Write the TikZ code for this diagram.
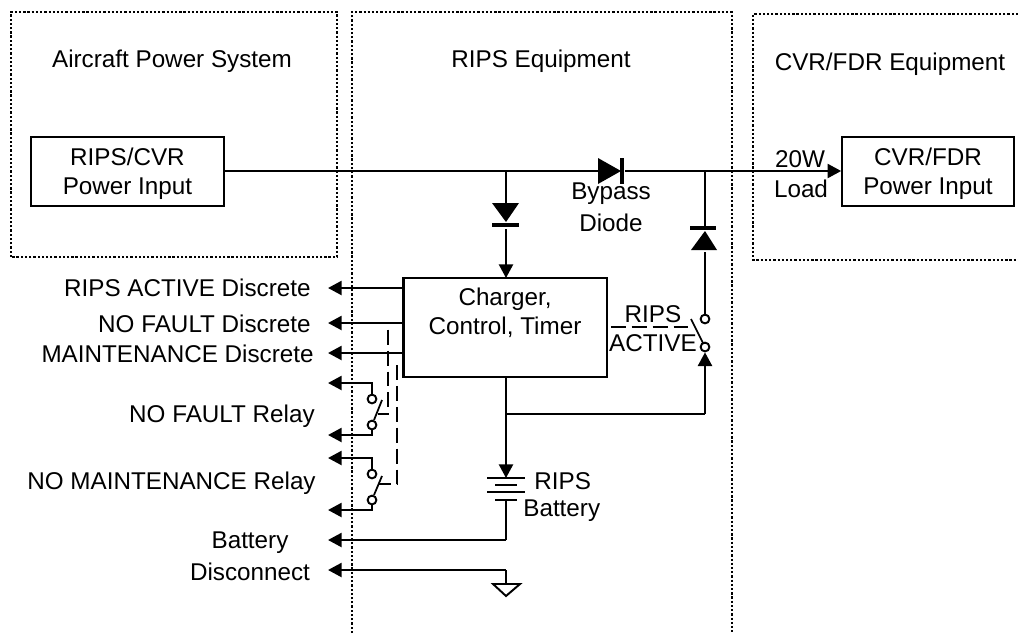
\documentclass[tikz,border=0pt]{standalone}
\usepackage{fontspec}
\setmainfont{Liberation Sans}
\usetikzlibrary{arrows.meta}

\tikzset{
  txt/.style={inner sep=0pt, align=center, font=\fontsize{13.8}{16.4}\selectfont},
  txtr/.style={txt, anchor=east},
  txtl/.style={txt, anchor=west},
  unitbox/.style={draw, line width=1.3pt, inner sep=0pt},
  terminal/.style={circle, draw, fill=white, line width=1.1pt, inner sep=0pt, minimum size=5pt},
  wire/.style={line width=1.35pt},
  sig/.style={wire, -{Triangle[length=7.8pt,width=8pt]}},
  region/.style={line width=1.5pt, dash pattern=on 1.3pt off 1.1pt},
  ctrl/.style={line width=1.3pt, dash pattern=on 8.5pt off 3.4pt},
  plate/.style={line width=1pt}
}

\begin{document}
\begin{tikzpicture}[x=0.02cm, y=-0.02cm]
   \useasboundingbox (0,0) rectangle (1018,633);

   % equipment regions
   \draw[region] (11,257) -- (11,12) -- (337,12) -- (337,257) -- cycle;
   \draw[region] (352,633) -- (352,12) -- (732,12) -- (732,633);
   \draw[region] (1018,14) -- (753,14) -- (753,260) -- (1018,260);
   \node[txt] (aps) at (172,61) {Aircraft Power System};
   \node[txt] (rips) at (541,61) {RIPS Equipment};
   \node[txt] (cvr) at (890,64) {CVR/FDR Equipment};

   % boxes
   \node[unitbox, minimum width=110pt, minimum height=39.5pt] (P1) at (127.5,171.5) {};
   \node[unitbox, minimum width=97.5pt, minimum height=39.5pt] (P2) at (928,171.5) {};
   \node[unitbox, minimum width=115.7pt, minimum height=56pt] (C) at (505,327.5) {};
   \node[txt] (P1t) at (127.5,174) {RIPS/CVR\\Power Input};
   \node[txt] (P2t) at (928,174) {CVR/FDR\\Power Input};
   \node[txt] (Ct) at (505,313) {Charger,\\Control, Timer};

   % helper points
   \coordinate (J1) at (506,171);
   \coordinate (J2) at (705,171);
   \coordinate (D1a) at (598,171);
   \coordinate (D1b) at (625,171);
   \coordinate (D2a) at (506,203);
   \coordinate (D2b) at (506,229);
   \coordinate (D3a) at (705,252);
   \coordinate (D3b) at (705,228);
   \coordinate (CT) at (506,278);
   \coordinate (CB) at (506,377);
   \coordinate (J3) at (506,414);
   \coordinate (K) at (705,414);
   \coordinate (BT) at (506,478);
   \coordinate (BB) at (506,500);
   \coordinate (BC) at (506,540);
   \coordinate (GC) at (506,570);
   \coordinate (GN) at (506,584);

   % main bus
   \draw[wire] (P1.east |- J1) -- (D1a);
   \draw[sig] (D1b) -- (P2.west |- D1b);
   \fill (598,158) -- (621,171) -- (598,184) -- cycle;
   \draw[line width=2pt] (622,158) -- (622,184);

   % charging path
   \draw[wire] (J1) -- (D2a);
   \fill (492,203) -- (519,203) -- (506,222) -- cycle;
   \draw[line width=2pt] (492,225) -- (519,225);
   \draw[sig] (D2b) -- (CT);

   % RIPS output
   \node[terminal] (S1) at (705,319) {};
   \node[terminal] (S2) at (705,347) {};
   \draw[wire] (J2) -- (D3b);
   \draw[line width=2pt] (690,228) -- (716,228);
   \fill (705,231) -- (717,250) -- (691,250) -- cycle;
   \draw[wire] (D3a) -- (S1);
   \draw[line width=1pt] (691,319) -- (703,343);
   \draw[wire] (CB) -- (J3);
   \draw[wire] (J3) -- (K);
   \draw[sig] (K) -- (S2);
   \draw[ctrl] (C.east |- 0,327) ++(3,0) -- (690,327);
   \node[txt] (act1) at (653,314) {RIPS};
   \node[txt] (act2) at (653,343) {ACTIVE};

   % battery
   \draw[sig] (J3) -- (BT);
   \draw[plate] (487,478) -- (525,478);
   \draw[plate] (495,485) -- (517,485);
   \draw[plate] (487,492) -- (525,492);
   \draw[plate] (495,500) -- (517,500);
   \node[txtl] (batt1) at (534,481) {RIPS};
   \node[txtl] (batt2) at (523,511) {Battery};
   \coordinate (L7) at (328,540);
   \coordinate (L8) at (328,570);
   \draw[wire] (BB) -- (BC);
   \draw[sig] (BC) -- (L7);
   \draw[sig] (GC) -- (L8);
   \draw[wire] (GC) -- (GN);
   \draw[line width=1.1pt] (493,584) -- (520,584) -- (506,596) -- cycle;
   \node[txt] (disc1) at (250,543) {Battery};
   \node[txt] (disc2) at (250,572) {Disconnect};

   % discretes
   \coordinate (L1) at (328,288);
   \coordinate (L2) at (328,323);
   \coordinate (L3) at (328,353);
   \draw[sig] (C.west |- L1) -- (L1);
   \draw[sig] (C.west |- L2) -- (L2);
   \draw[sig] (C.west |- L3) -- (L3);
   \node[txtr] (d1) at (311,288) {RIPS ACTIVE Discrete};
   \node[txtr] (d2) at (311,324) {NO FAULT Discrete};
   \node[txtr] (d3) at (314,354) {MAINTENANCE Discrete};

   % relays
   \node[terminal] (R1a) at (372,399) {};
   \node[terminal] (R1b) at (372,425) {};
   \node[terminal] (R2a) at (372,474) {};
   \node[terminal] (R2b) at (372,500) {};
   \coordinate (L4) at (328,383);
   \coordinate (L5) at (328,435);
   \coordinate (L6) at (328,458);
   \coordinate (L9) at (328,510);
   \draw[sig] (R1a) |- (L4);
   \draw[sig] (R1b) |- (L5);
   \draw[sig] (R2a) |- (L6);
   \draw[sig] (R2b) |- (L9);
   \draw[line width=1pt] (382,400) -- (374,420);
   \draw[line width=1pt] (382,476) -- (374,495);
   \draw[ctrl] (C.west |- L2) -- (388,323) -- (388,414) -- (378,414);
   \draw[ctrl] (397,365) -- (397,484) -- (378,484);
   \node[txtr] (r1) at (315,416) {NO FAULT Relay};
   \node[txtr] (r2) at (316,483) {NO MAINTENANCE Relay};

   % load label
   \node[txt] (load1) at (800,159) {20W};
   \node[txt] (load2) at (801,189) {Load};
   \node[txt] (byp1) at (611,194) {Bypass};
   \node[txt] (byp2) at (611,223) {Diode};
\end{tikzpicture}
\end{document}
